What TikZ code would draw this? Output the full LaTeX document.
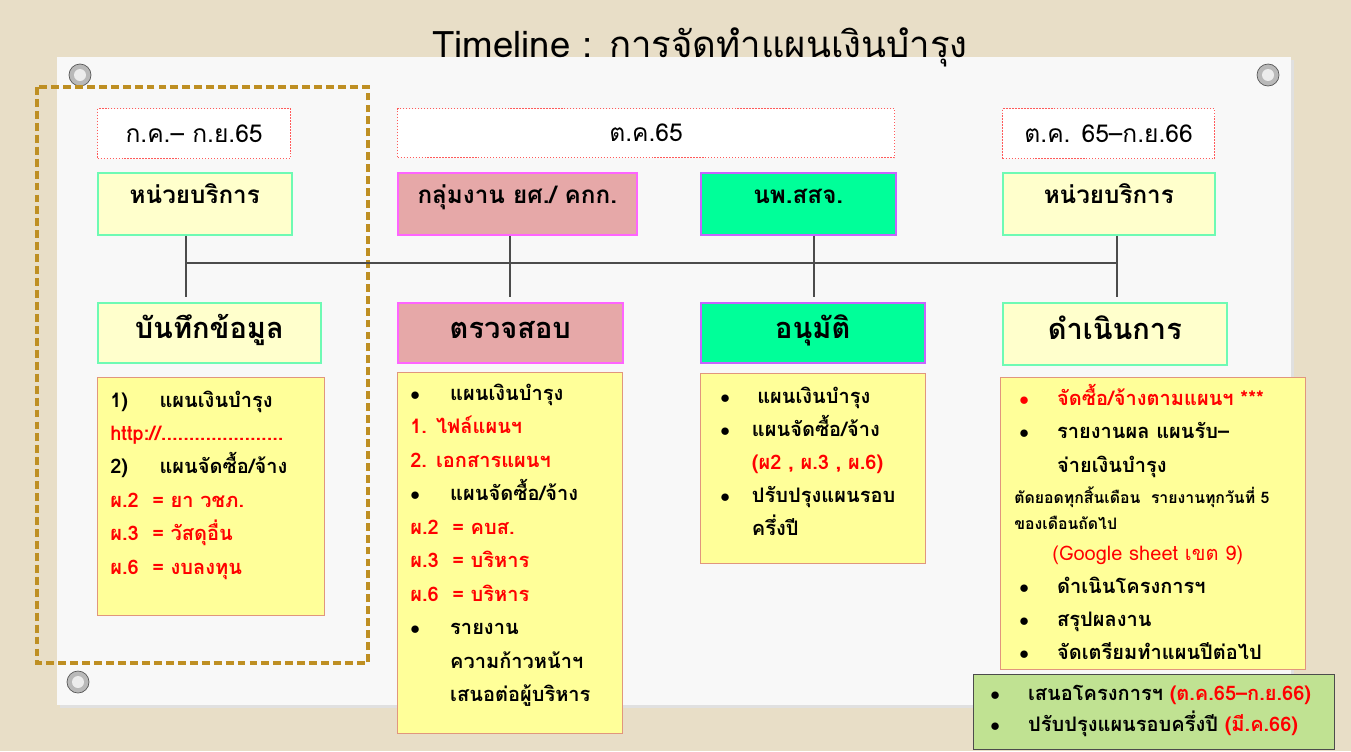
\documentclass[tikz,border=0pt]{standalone}
\usepackage{fontspec}
\setmainfont{Loma}[Script=Thai]
\usetikzlibrary{positioning}
\newlength\pxu \setlength\pxu{0.02cm}
\definecolor{canvas}{RGB}{232,222,199}
\definecolor{paper}{RGB}{248,248,248}
\definecolor{datered}{RGB}{255,90,90}
\definecolor{unitfill}{RGB}{255,255,204}
\definecolor{unitline}{RGB}{110,250,180}
\definecolor{rosefill}{RGB}{230,168,168}
\definecolor{roseline}{RGB}{255,100,255}
\definecolor{mintfill}{RGB}{0,255,153}
\definecolor{mintline}{RGB}{200,100,255}
\definecolor{notefill}{RGB}{255,255,153}
\definecolor{noteline}{RGB}{225,150,125}
\definecolor{leaffill}{RGB}{192,226,146}
\definecolor{gold}{RGB}{190,143,35}
\newcommand\bul[1][21pt]{\makebox[#1][l]{$\bullet$}}
\newcommand\rbul[1][21pt]{\makebox[#1][l]{\color{red}$\bullet$}}
\newcommand\linkurl{http://......................}
\tikzset{
  datebox/.style={draw=datered, densely dotted, fill=white, line width=0.7pt,
    anchor=north west, font=\fontsize{14}{16}\selectfont},
  unitbox/.style={draw=unitline, fill=unitfill, line width=0.9pt,
    anchor=north west, font=\bfseries\fontsize{13.8}{16}\selectfont,
    text height=9pt, text depth=9pt},
  rosebox/.style={unitbox, draw=roseline, fill=rosefill},
  mintbox/.style={unitbox, draw=mintline, fill=mintfill},
  stepbox/.style={font=\bfseries\fontsize{16.5}{19}\selectfont,
    text height=12pt, text depth=5pt},
  notebox/.style={draw=noteline, fill=notefill, line width=0.7pt, anchor=north west},
  item/.style={anchor=base west, inner sep=0pt, font=\bfseries\fontsize{11.4}{13}\selectfont},
  smallitem/.style={item, font=\bfseries\fontsize{9}{11}\selectfont},
  link/.style={draw=black!70, line width=0.7pt},
  grommet/.style={fill=gray!55, draw=gray!70!black, line width=0.4pt},
}
\begin{document}
\begin{tikzpicture}[x=0.02cm, y=-0.02cm]
\useasboundingbox (0,0) rectangle (1351,751);
% canvas and paper
\fill[canvas] (0,0) rectangle (1351,751);
\fill[black!12] (60,60) rectangle (1294,708);
\fill[paper] (57,57) rectangle (1291,705);
\foreach \gx/\gy in {80/75, 1268/75, 78/682} {
  \fill[grommet] (\gx,\gy) circle (11);
  \fill[white!85!gray] (\gx,\gy) circle (6);
}
\node[font=\fontsize{20.8}{24}\selectfont] (title) at (700,47) {Timeline : การจัดทำแผนเงินบำรุง};
\draw[gold, line width=2.2pt, dash pattern=on 4.5pt off 2.3pt] (37,87) rectangle (368,663);

% periods
\node[datebox, minimum width=193*\pxu, minimum height=50*\pxu] (d1) at (97,108) {ก.ค.– ก.ย.65};
\node[datebox, minimum width=497*\pxu, minimum height=49*\pxu] (d2) at (397,108) {ต.ค.65};
\node[datebox, minimum width=212*\pxu, minimum height=50*\pxu] (d3) at (1002,108) {ต.ค. 65–ก.ย.66};

% who
\node[unitbox, minimum width=194*\pxu, minimum height=62*\pxu] (u1) at (97,172) {หน่วยบริการ};
\node[rosebox, minimum width=239*\pxu, minimum height=62*\pxu] (u2) at (397,172) {กลุ่มงาน ยศ./ คกก.};
\node[mintbox, minimum width=195*\pxu, minimum height=62*\pxu] (u3) at (700,172) {นพ.สสจ.};
\node[unitbox, minimum width=212*\pxu, minimum height=62*\pxu] (u4) at (1002,172) {หน่วยบริการ};

% what
\node[unitbox, stepbox, minimum width=223*\pxu, minimum height=60*\pxu] (s1) at (97,302) {บันทึกข้อมูล};
\node[rosebox, stepbox, minimum width=225*\pxu, minimum height=60*\pxu] (s2) at (397,302) {ตรวจสอบ};
\node[mintbox, stepbox, minimum width=224*\pxu, minimum height=60*\pxu] (s3) at (700,302) {อนุมัติ};
\node[unitbox, stepbox, minimum width=224*\pxu, minimum height=62*\pxu] (s4) at (1002,302) {ดำเนินการ};

% timeline
\coordinate (j1) at (186,263);
\coordinate (j2) at (510,263);
\coordinate (j3) at (814,263);
\coordinate (j4) at (1117,263);
\draw[link] (j1) -- (j4);
\foreach \k in {1,2,3,4}
  \draw[link, shorten >=3pt] (u\k.south -| j\k) -- (s\k.north -| j\k);

% notes
\node[notebox, minimum width=227*\pxu, minimum height=238*\pxu] (n1) at (97,377) {};
\node[notebox, minimum width=225*\pxu, minimum height=361*\pxu] (n2) at (397,372) {};
\node[notebox, minimum width=225*\pxu, minimum height=190*\pxu] (n3) at (700,373) {};
\node[notebox, minimum width=305*\pxu, minimum height=292*\pxu] (n4) at (1000,377) {};
\node[notebox, draw=black!70, fill=leaffill, minimum width=361*\pxu, minimum height=75*\pxu] (n5) at (973,674) {};

\foreach \t [count=\i] in {{\makebox[28pt][l]{1)}แผนเงินบำรุง},
    {\color{red}\linkurl},
    {\makebox[28pt][l]{2)}แผนจัดซื้อ/จ้าง},
    {\color{red}ผ.2~ = ยา วชภ.},
    {\color{red}ผ.3~ = วัสดุอื่น},
    {\color{red}ผ.6~ = งบลงทุน}}
  \node[item] (a\i) at (110,{407+33.4*(\i-1)}) {\t};

\foreach \t [count=\i] in {{\bul[22.7pt]แผนเงินบำรุง},
    {\color{red}1. ไฟล์แผนฯ},
    {\color{red}2. เอกสารแผนฯ},
    {\bul[22.7pt]แผนจัดซื้อ/จ้าง},
    {\color{red}ผ.2~ = คบส.},
    {\color{red}ผ.3~ = บริหาร},
    {\color{red}ผ.6~ = บริหาร},
    {\bul[22.7pt]รายงาน},
    {\hspace{22.7pt}ความก้าวหน้าฯ},
    {\hspace{22.7pt}เสนอต่อผู้บริหาร}}
  \node[item] (b\i) at (410,{400+33.5*(\i-1)}) {\t};

\foreach \t [count=\i] in {{\bul[21pt]แผนเงินบำรุง},
    {\bul[18pt]แผนจัดซื้อ/จ้าง},
    {\hspace{18pt}\color{red}(ผ2 , ผ.3 , ผ.6)},
    {\bul[18pt]ปรับปรุงแผนรอบ},
    {\hspace{18pt}ครึ่งปี}}
  \node[item] (c\i) at (720,{403+33*(\i-1)}) {\t};

\node[item] (e1) at (1019,405) {\rbul[21.5pt]\color{red}จัดซื้อ/จ้างตามแผนฯ ***};
\node[item] (e2) at (1019,438) {\bul[21.5pt]รายงานผล แผนรับ–};
\node[item] (e3) at (1019,472) {\hspace{21.5pt}จ่ายเงินบำรุง};
\node[smallitem] (e4) at (1014,503) {ตัดยอดทุกสิ้นเดือน~ รายงานทุกวันที่ 5};
\node[smallitem] (e5) at (1014,529) {ของเดือนถัดไป};
\node[item, font=\fontsize{11.4}{13}\selectfont, red] (e6) at (1052,560) {(Google sheet เขต 9)};
\node[item] (e7) at (1019,593) {\bul[21.5pt]ดำเนินโครงการฯ};
\node[item] (e8) at (1019,626) {\bul[21.5pt]สรุปผลงาน};
\node[item] (e9) at (1019,659) {\bul[21.5pt]จัดเตรียมทำแผนปีต่อไป};

\node[item] (g1) at (990,700) {\bul[21.5pt]เสนอโครงการฯ {\color{red}(ต.ค.65–ก.ย.66)}};
\node[item] (g2) at (990,731) {\bul[21.5pt]ปรับปรุงแผนรอบครึ่งปี {\color{red}(มี.ค.66)}};
\end{tikzpicture}
\end{document}
